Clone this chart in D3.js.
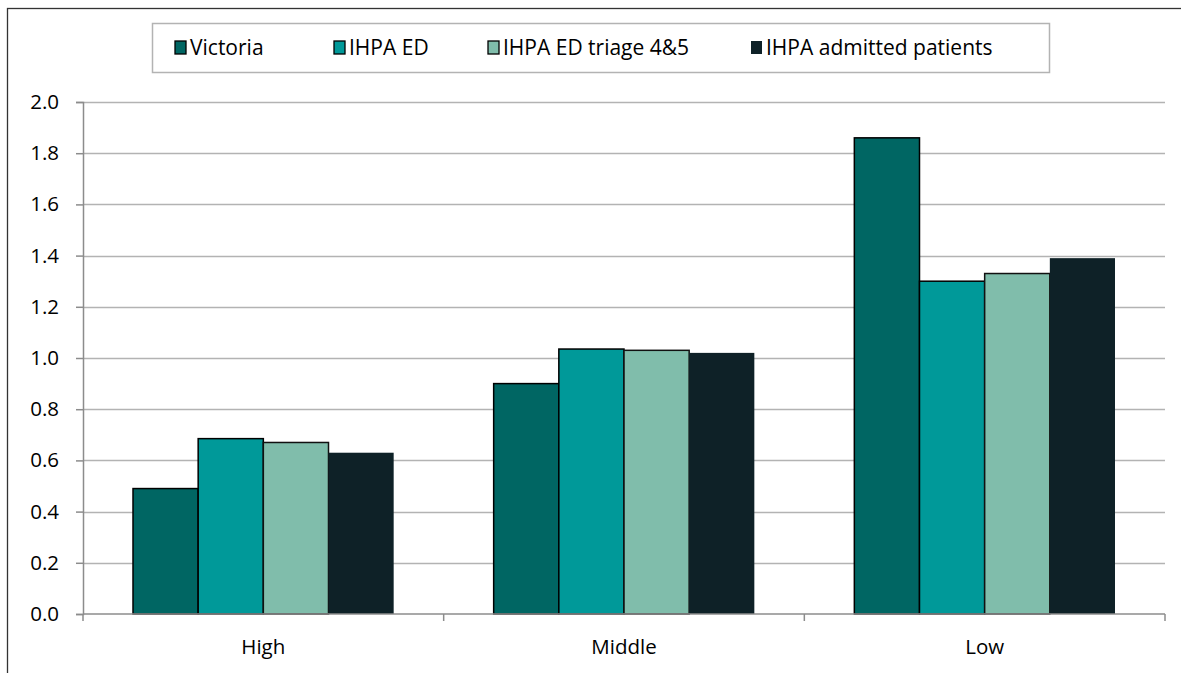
<!DOCTYPE html>
<html>
<head>
<meta charset="utf-8">
<script src="https://cdn.jsdelivr.net/npm/d3@7"></script>
<style>
  body { margin: 0; background: #fff; }
  text { font-family: "Open Sans", "Liberation Sans", sans-serif; fill: #000; }
</style>
</head>
<body>
<div id="chart"></div>
<script>
// chart data
var categories = ["High", "Middle", "Low"];
var seriesNames = ["Victoria", "IHPA ED", "IHPA ED triage 4&5", "IHPA admitted patients"];
var victoria = [0.49, 0.90, 1.86];
var ihpaEd = [0.685, 1.035, 1.30];
var ihpaTriage = [0.67, 1.03, 1.33];
var ihpaAdmitted = [0.63, 1.02, 1.39];
var yTicks = [0, 0.2, 0.4, 0.6, 0.8, 1.0, 1.2, 1.4, 1.6, 1.8, 2.0];

var colors = ["#006663", "#009999", "#80BDAB", "#0E2127"];
var strokes = ["#000", "#000", "#111", "none"];
var allSeries = [victoria, ihpaEd, ihpaTriage, ihpaAdmitted];

var width = 1181, height = 673;
// plot area edges
var plotLeft = 83, plotRight = 1165, plotTop = 102, plotBottom = 614;

var svg = d3.select("#chart")
    .append("svg")
    .attr("width", width)
    .attr("height", height);

// outer chart border (only top + left are visible)
svg.append("rect")
    .attr("x", 7.5).attr("y", 8.5)
    .attr("width", width + 20).attr("height", height + 20)
    .style("fill", "none")
    .style("stroke", "#333")
    .style("stroke-width", 1.3);

// one band per category, bars sit inside it with ~50px padding each side
var groupBand = d3.scaleBand().domain(categories).range([plotLeft, plotRight]);
var x1 = d3.scaleBand()
    .domain(seriesNames)
    .range([50, groupBand.bandwidth() - 50]);

var y = d3.scaleLinear().domain([0, 2]).range([plotBottom, plotTop]);

// gridlines
svg.append("g")
    .selectAll("line")
    .data(yTicks.slice(1))
    .enter().append("line")
    .attr("x1", plotLeft).attr("x2", plotRight)
    .attr("y1", function(d) { return Math.round(y(d)) + 0.5; })
    .attr("y2", function(d) { return Math.round(y(d)) + 0.5; })
    .style("stroke", "#b3b3b3")
    .style("stroke-width", 1.5);

// bars
var groups = svg.append("g")
    .selectAll("g")
    .data(categories)
    .enter().append("g")
    .attr("transform", function(d) { return "translate(" + groupBand(d) + ",0)"; });

groups.selectAll("rect")
    .data(function(d, i) {
        return seriesNames.map(function(s, k) { return { s: s, k: k, v: allSeries[k][i] }; });
    })
    .enter().append("rect")
    .attr("x", function(d) { return x1(d.s); })
    .attr("width", x1.bandwidth())
    .attr("y", function(d) { return y(d.v); })
    .attr("height", function(d) { return y(0) - y(d.v); })
    .style("fill", function(d) { return colors[d.k]; })
    .style("stroke", function(d) { return strokes[d.k]; })
    .style("stroke-width", 1.5);

// y axis
var yAxis = d3.axisLeft(y)
    .tickValues(yTicks)
    .tickSize(7)
    .tickPadding(17)
    .tickFormat(d3.format(".1f"));

var yg = svg.append("g")
    .attr("transform", "translate(" + plotLeft + ",0)")
    .call(yAxis);
yg.select(".domain").style("stroke", "#8c8c8c").style("stroke-width", 1.5);
yg.selectAll(".tick line").style("stroke", "#8c8c8c").style("stroke-width", 1.5);
yg.selectAll("text").style("font-size", "20.5px").style("fill", "#000");

// x axis
var xAxis = d3.axisBottom(groupBand).tickSize(0).tickPadding(25);
var xg = svg.append("g")
    .attr("transform", "translate(0," + plotBottom + ")")
    .call(xAxis);
xg.select(".domain").remove();
xg.selectAll("text").style("font-size", "20.5px").style("fill", "#000");

svg.append("line")
    .attr("x1", plotLeft).attr("x2", plotRight)
    .attr("y1", plotBottom).attr("y2", plotBottom)
    .style("stroke", "#8c8c8c").style("stroke-width", 1.5);

// category separator ticks
var sepX = categories.map(function(c) { return groupBand(c); }).concat([plotRight]);
svg.append("g").selectAll("line")
    .data(sepX)
    .enter().append("line")
    .attr("x1", function(d) { return d; }).attr("x2", function(d) { return d; })
    .attr("y1", plotBottom).attr("y2", plotBottom + 7)
    .style("stroke", "#8c8c8c").style("stroke-width", 1.5);

// legend
svg.append("rect")
    .attr("x", 152.5).attr("y", 23.5)
    .attr("width", 897).attr("height", 49)
    .style("fill", "#fff")
    .style("stroke", "#b3b3b3")
    .style("stroke-width", 1.5);

var legendX = [175, 334, 488, 751];
var legend = svg.append("g")
    .selectAll("g")
    .data(seriesNames)
    .enter().append("g")
    .attr("transform", function(d, i) { return "translate(" + legendX[i] + ",41)"; });

legend.append("rect")
    .attr("width", 11).attr("height", 13)
    .style("fill", function(d, i) { return colors[i]; })
    .style("stroke", function(d, i) { return i == 3 ? "none" : "#000"; })
    .style("stroke-width", 1.3);

legend.append("text")
    .attr("x", 15)
    .attr("y", 13.5)
    .style("font-size", "21px")
    .text(function(d) { return d; });
</script>
</body>
</html>
